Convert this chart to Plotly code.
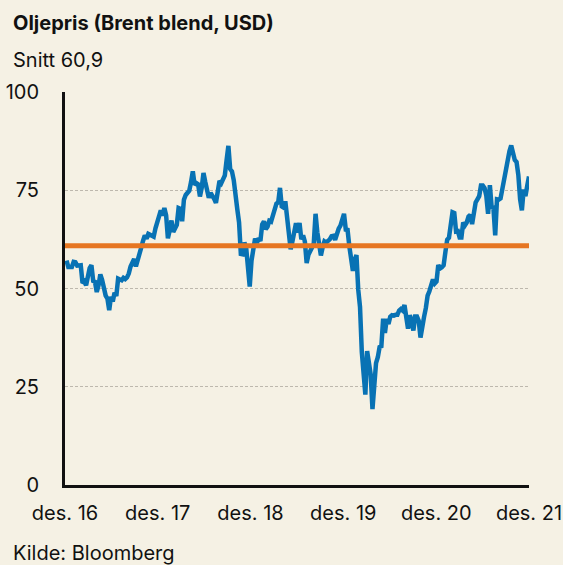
import pandas as pd
import plotly.graph_objects as go

# Weekly Brent price (USD), Fridays from Jan 2017 to Dec 2021
price_2017 = [57.1, 55.5, 55.5, 55.5, 56.8, 56.7, 55.8, 56.0, 55.9, 51.4, 51.8, 50.8, 52.8,
              55.2, 55.9, 51.9, 51.7, 49.1, 50.8, 53.6, 52.2, 49.9, 48.2, 47.4, 44.5, 47.9,
              46.7, 48.9, 48.1, 52.5, 52.4, 52.1, 52.7, 52.4, 52.8, 53.8, 55.6, 56.9, 57.5,
              55.6, 57.2, 57.8, 60.4, 62.1, 63.5, 62.7, 63.9, 63.7, 63.4, 63.2, 65.3, 66.9]
price_2018 = [67.6, 69.9, 68.6, 70.5, 68.6, 62.8, 64.8, 67.3, 64.4, 65.5, 66.2, 70.5, 70.3,
              67.1, 72.6, 73.8, 74.6, 74.9, 77.1, 79.8, 76.4, 76.8, 76.5, 73.4, 75.6, 79.4,
              77.1, 75.3, 73.1, 74.3, 73.2, 72.8, 71.8, 75.8, 77.4, 76.8, 78.1, 78.8, 82.7,
              86.3, 80.4, 79.8, 77.6, 73.0, 70.2, 66.8, 58.8, 58.7, 61.7, 60.3, 53.8, 50.5]
price_2019 = [57.1, 60.5, 62.7, 61.6, 62.8, 62.1, 66.3, 67.1, 65.1, 65.7, 67.2, 67.0, 68.4,
              70.3, 71.6, 71.9, 75.6, 70.9, 70.6, 72.2, 68.7, 64.5, 60.0, 62.0, 65.2, 66.6,
              64.2, 66.7, 62.5, 63.5, 61.9, 56.5, 58.6, 59.3, 60.4, 61.5, 69.0, 64.3, 61.9,
              58.4, 60.5, 62.0, 61.7, 62.1, 62.5, 63.3, 63.4, 62.4, 64.4, 65.2, 66.0, 68.2]
price_2020 = [69.0, 65.0, 64.9, 60.7, 58.2, 54.5, 57.3, 58.5, 49.7, 45.3, 33.9, 27.0, 23.0,
              34.1, 31.5, 28.1, 19.3, 26.4, 31.0, 32.5, 35.1, 35.3, 42.3, 38.7, 42.2, 41.0,
              42.8, 43.2, 43.1, 43.3, 43.3, 44.4, 44.8, 44.4, 45.8, 42.7, 39.8, 43.2, 41.9,
              39.3, 42.9, 42.9, 41.8, 37.5, 39.5, 42.8, 45.0, 48.2, 49.3, 51.0, 52.3, 51.3]
price_2021 = [51.8, 56.0, 55.1, 55.4, 55.9, 59.3, 62.4, 62.9, 66.1, 69.4, 69.2, 64.5, 64.6,
              63.0, 63.0, 66.8, 66.1, 66.8, 68.3, 68.7, 66.4, 69.6, 71.9, 72.7, 73.5, 76.2,
              76.2, 75.6, 73.6, 69.0, 76.3, 70.7, 70.6, 63.5, 72.7, 72.6, 72.9, 75.3, 78.1,
              79.3, 82.4, 84.9, 86.4, 84.4, 82.7, 82.2, 78.9, 72.7, 69.9, 75.2, 73.5, 76.1, 78.5]

prices = price_2017 + price_2018 + price_2019 + price_2020 + price_2021
dates = pd.date_range("2017-01-06", "2021-12-31", freq="W-FRI")

average = 60.9
x_start = "2016-12-31"
x_end = "2021-12-31"
tick_dates = ["2016-12-31", "2017-12-31", "2018-12-31", "2019-12-31", "2020-12-31", "2021-12-31"]
tick_text = ["des. 16", "des. 17", "des. 18", "des. 19", "des. 20", "des. 21"]
y_ticks = [0, 25, 50, 75, 100]

title_text = "Oljepris (Brent blend, USD)"
subtitle_text = "Snitt 60,9"
source_text = "Kilde: Bloomberg"

BG = "#f5f1e4"
BLUE = "#0872b4"
ORANGE = "#e67622"
FONT = "Inter, Roboto, Arial, sans-serif"

fig = go.Figure()
fig.add_trace(go.Scatter(x=dates, y=prices, mode="lines",
                         line=dict(color=BLUE, width=4.5), hoverinfo="skip"))
fig.add_trace(go.Scatter(x=[x_start, x_end], y=[average, average], mode="lines",
                         line=dict(color=ORANGE, width=5), hoverinfo="skip"))

L, R, T, B = 65, 34, 92, 80
W, H = 563, 565
ph = H - T - B
pw = W - L - R

def py(p):
    return (H - B - p) / ph

def px(p):
    return (p - L) / pw

fig.update_layout(
    width=W, height=H,
    margin=dict(l=L, r=R, t=T, b=B, autoexpand=False),
    paper_bgcolor=BG, plot_bgcolor=BG,
    showlegend=False,
    font=dict(family=FONT, size=20, color="#111111"),
    xaxis=dict(range=[x_start, x_end], tickmode="array", tickvals=tick_dates, ticktext=tick_text,
               showgrid=False, zeroline=False, showline=True, linecolor="#111111", linewidth=3,
               ticks="", ticklabelstandoff=8, tickfont=dict(size=20), automargin=False),
    yaxis=dict(range=[0, 100], tickvals=y_ticks, showgrid=True, gridcolor="#bdb8ad",
               griddash="3px,2px", gridwidth=1, zeroline=False, showline=True,
               linecolor="#111111", linewidth=3, ticks="", ticklabelstandoff=19,
               tickfont=dict(size=20), automargin=False),
    annotations=[
        dict(text="<b>" + title_text + "</b>", xref="paper", yref="paper", x=px(11), y=py(23),
             xanchor="left", yanchor="middle", showarrow=False, font=dict(size=20)),
        dict(text=subtitle_text, xref="paper", yref="paper", x=px(11), y=py(60),
             xanchor="left", yanchor="middle", showarrow=False, font=dict(size=20)),
        dict(text=source_text, xref="paper", yref="paper", x=px(11), y=py(553),
             xanchor="left", yanchor="middle", showarrow=False, font=dict(size=20)),
    ],
)

fig.write_html("out.html", config={"displayModeBar": False},
               post_script="document.body.style.margin='0';")
